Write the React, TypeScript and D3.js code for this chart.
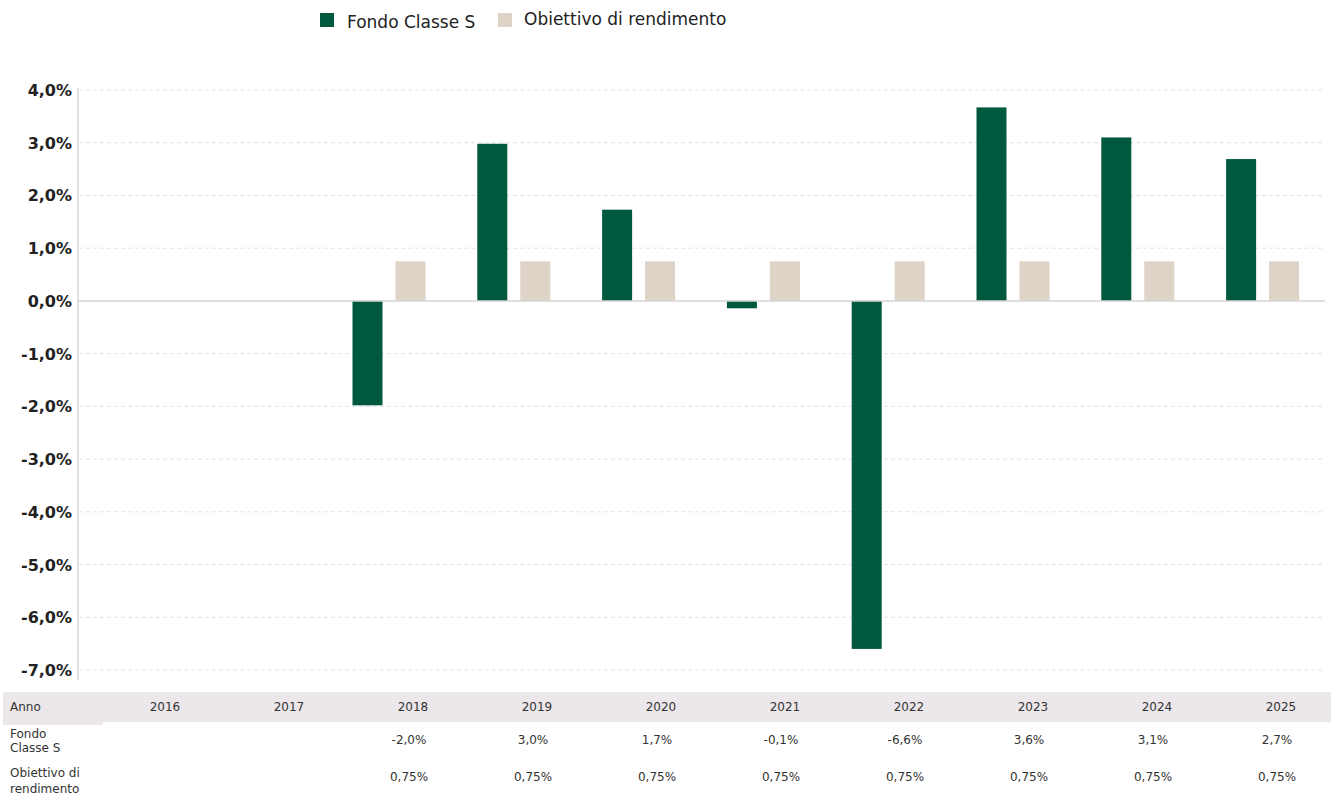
import * as d3 from 'd3'
import React from 'react'

const years = ['2016', '2017', '2018', '2019', '2020', '2021', '2022', '2023', '2024', '2025']
const fondo: (number | null)[] = [null, null, -1.98, 2.98, 1.73, -0.14, -6.6, 3.67, 3.1, 2.69]
const obiettivo: (number | null)[] = [null, null, 0.75, 0.75, 0.75, 0.75, 0.75, 0.75, 0.75, 0.75]
const fondoLabels = ['', '', '-2,0%', '3,0%', '1,7%', '-0,1%', '-6,6%', '3,6%', '3,1%', '2,7%']
const obiettivoLabels = ['', '', '0,75%', '0,75%', '0,75%', '0,75%', '0,75%', '0,75%', '0,75%', '0,75%']
const yTicks = [4, 3, 2, 1, 0, -1, -2, -3, -4, -5, -6, -7]
const seriesKeys = ['fondo', 'obiettivo']
const seriesNames = ['Fondo Classe S', 'Obiettivo di rendimento']

const GREEN = '#00583f'
const BEIGE = '#ddd3c6'
const FONT = 'Verdana, "DejaVu Sans", sans-serif'

const App = () => {
  const W = 1331
  const H = 798
  const left = 77
  const right = 1325

  const x = d3.scaleBand<string>().domain(years).range([left, right]).padding(0)
  const sub = d3.scaleBand<string>().domain(seriesKeys).range([-36.5, 36.5]).paddingInner(0.302)
  const y = d3.scaleLinear().domain([-7, 4]).range([670, 90])

  const tableX = d3.scaleBand<string>().domain(years).range([103, 1343])

  const fmt = (v: number) => `${v.toFixed(1).replace('.', ',')}%`

  return (
    <svg width={W} height={H} style={{ position: 'absolute', left: 0, top: 0, fontFamily: FONT }}>
      <rect width={W} height={H} fill="#fff" />
      {/* legend */}
      <rect x={320} y={13} width={14} height={14} fill={GREEN} />
      <text x={347} y={28} fontSize={17} fill="#222">{seriesNames[0]}</text>
      <rect x={498} y={13} width={14} height={14} fill={BEIGE} />
      <text x={524} y={25} fontSize={17} fill="#222">{seriesNames[1]}</text>

      {/* grid */}
      {yTicks.map((t) => (
        <g key={t}>
          {t !== 0 && (
            <line x1={79} x2={right} y1={y(t)} y2={y(t)} stroke="#e2e2e2" strokeDasharray="4,3" />
          )}
          <text x={72} y={y(t) + 6} textAnchor="end" fontSize={16} fontWeight="bold" fill="#222">
            {fmt(t)}
          </text>
        </g>
      ))}
      <line x1={78} x2={78} y1={88} y2={680} stroke="#d6d6d6" strokeWidth={1.5} />

      {/* bars */}
      {years.map((yr, i) => {
        const cx = (x(yr) || 0) + x.bandwidth() / 2
        return (
          <g key={yr} transform={`translate(${cx},0)`}>
            {[fondo[i], obiettivo[i]].map((v, k) =>
              v == null ? null : (
                <rect
                  key={k}
                  x={sub(seriesKeys[k]) || 0}
                  y={y(Math.max(0, v))}
                  width={sub.bandwidth()}
                  height={Math.abs(y(v) - y(0))}
                  fill={k === 0 ? GREEN : BEIGE}
                />
              )
            )}
          </g>
        )
      })}
      <line x1={78} x2={right} y1={y(0)} y2={y(0)} stroke="#d4d4d4" strokeWidth={1.5} />

      {/* table */}
      <rect x={3} y={692} width={W - 3} height={30} fill="#ece7ea" />
      <rect x={3} y={722} width={100} height={3} fill="#ece7ea" />
      <text x={10} y={711} fontSize={12} fill="#333">Anno</text>
      <text x={10} y={738} fontSize={12} fill="#333">Fondo</text>
      <text x={10} y={752} fontSize={12} fill="#333">Classe S</text>
      <text x={10} y={777} fontSize={12} fill="#333">Obiettivo di</text>
      <text x={10} y={793} fontSize={12} fill="#333">rendimento</text>
      {years.map((yr, i) => {
        const cx = (tableX(yr) || 0) + tableX.bandwidth() / 2
        return (
          <g key={yr} fontSize={12} fill="#333" textAnchor="middle">
            <text x={cx} y={711}>{yr}</text>
            <text x={cx - 4} y={744}>{fondoLabels[i]}</text>
            <text x={cx - 4} y={781}>{obiettivoLabels[i]}</text>
          </g>
        )
      })}
    </svg>
  )
}

export default App
